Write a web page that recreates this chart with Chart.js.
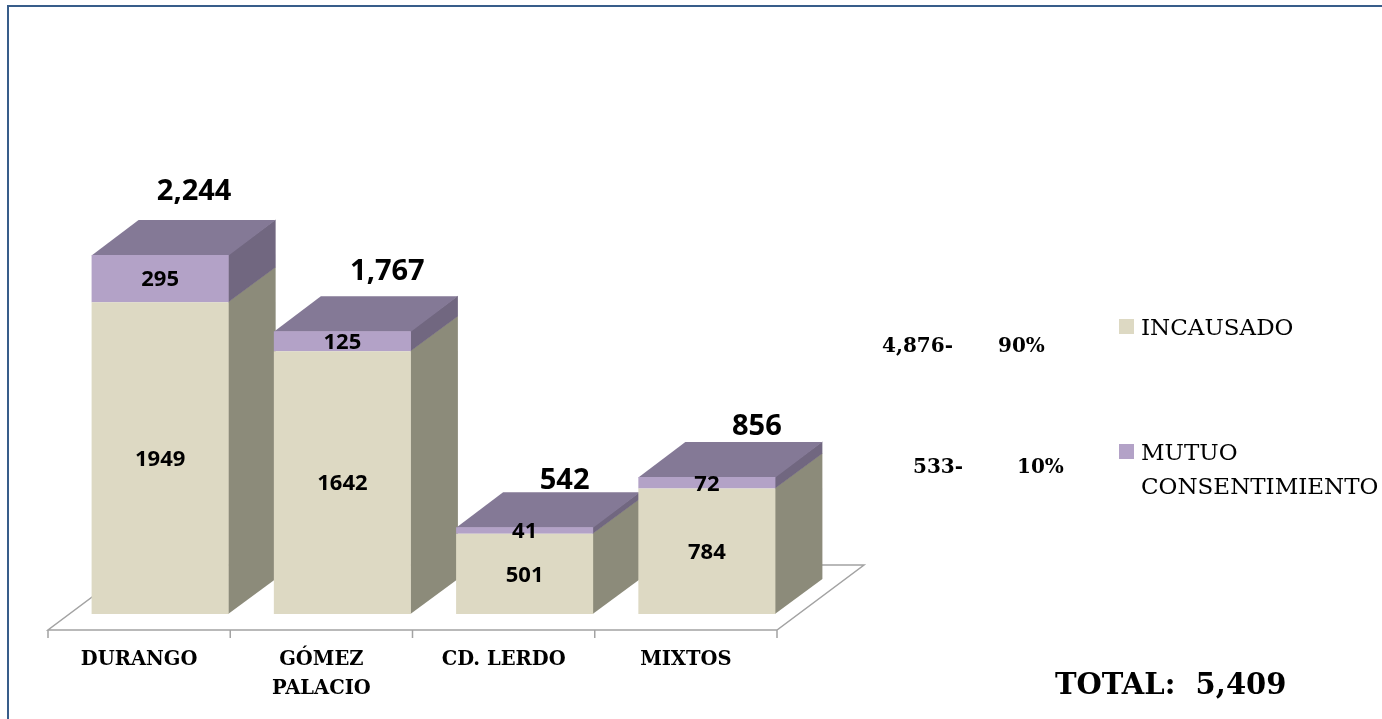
<!DOCTYPE html>
<html><head><meta charset="utf-8">
<script src="https://cdn.jsdelivr.net/npm/chart.js@4.4.1/dist/chart.umd.min.js"></script>
<style>
html,body{margin:0;padding:0;background:#fff;}
#wrap{position:relative;width:1382px;height:719px;overflow:hidden;background:#fff;}
#frame{position:absolute;left:7px;top:5px;width:1420px;height:760px;border:2px solid #385D8A;box-sizing:border-box;}
#c{position:absolute;left:0;top:0;}
.t{position:absolute;white-space:pre;font-family:'DejaVu Serif';line-height:1;color:#000;}
.b{font-weight:bold;}
.sw{position:absolute;width:15px;height:15px;}
</style>
</head><body>
<div id="wrap">
  <div id="frame"></div>
  <canvas id="c" width="1382" height="719"></canvas>
  <div id="overlay"></div>
</div>
<script>
// ---- data ----
const categories = ['DURANGO', ['GÓMEZ', 'PALACIO'], 'CD. LERDO', 'MIXTOS'];
const incausado = [1949, 1642, 501, 784];
const mutuo = [295, 125, 41, 72];
const seriesNames = ['INCAUSADO', ['MUTUO', 'CONSENTIMIENTO']];
const yMax = 3000;

// ---- styles ----
const frontColors = ['#DDD9C3', '#B3A2C7'];
const sideColors = ['#8C8B7A', '#716780'];
const topColor = '#847996';
const DX = 47, DY = -35;            // bar depth
const FDX = 87, FDY = -65;          // floor depth
const FOX = 21, FOY = 16;           // bar front offset from floor front

function fmt(n){ return String(n).replace(/\B(?=(\d{3})+(?!\d))/g, ','); }

const threeD = {
  id: 'threeD',
  beforeDatasetsDraw(chart) {
    const {ctx, chartArea: a} = chart;
    const fl = a.left - FOX, fr = a.right - FOX, fy = a.bottom + FOY;
    ctx.save();
    ctx.strokeStyle = '#A3A3A3';
    ctx.lineWidth = 1.5;
    ctx.beginPath();
    ctx.moveTo(fl, fy); ctx.lineTo(fr, fy); ctx.lineTo(fr + FDX, fy + FDY);
    ctx.lineTo(fl + FDX, fy + FDY); ctx.closePath();
    const n = chart.data.labels.length, w = (fr - fl) / n;
    for (let i = 0; i <= n; i++) { ctx.moveTo(fl + i * w, fy); ctx.lineTo(fl + i * w, fy + 8); }
    ctx.stroke();
    const last = chart.data.datasets.length - 1;
    chart.data.datasets.forEach((ds, di) => {
      const meta = chart.getDatasetMeta(di);
      meta.data.forEach((bar) => {
        const p = bar.getProps(['x', 'y', 'base', 'width'], true);
        const l = p.x - p.width / 2, r = p.x + p.width / 2;
        ctx.fillStyle = sideColors[di];
        ctx.beginPath();
        ctx.moveTo(r - 0.5, p.y - 0.5); ctx.lineTo(r + DX, p.y + DY - 0.5);
        ctx.lineTo(r + DX, p.base + DY); ctx.lineTo(r - 0.5, p.base);
        ctx.closePath(); ctx.fill();
        if (di === last) {
          ctx.fillStyle = topColor;
          ctx.beginPath();
          ctx.moveTo(l, p.y + 0.5); ctx.lineTo(l + DX, p.y + DY);
          ctx.lineTo(r + DX, p.y + DY); ctx.lineTo(r, p.y + 0.5);
          ctx.closePath(); ctx.fill();
        }
      });
    });
    ctx.restore();
  },
  afterDatasetsDraw(chart, args, opts) {
    const ctx = chart.ctx;
    ctx.save();
    ctx.fillStyle = '#000';
    ctx.textAlign = 'center';
    ctx.textBaseline = 'alphabetic';
    ctx.font = 'bold ' + opts.innerSize + 'px "Open Sans"';
    chart.data.datasets.forEach((ds, di) => {
      chart.getDatasetMeta(di).data.forEach((bar, j) => {
        const p = bar.getProps(['x', 'y', 'base'], true);
        const cy = (p.y + p.base) / 2;
        ctx.fillText(String(ds.data[j]), p.x, cy + 0.357 * opts.innerSize);
      });
    });
    const lastMeta = chart.getDatasetMeta(chart.data.datasets.length - 1);
    ctx.font = 'bold ' + opts.totalSize + 'px "Open Sans"';
    lastMeta.data.forEach((bar, j) => {
      const total = chart.data.datasets.reduce((s, ds) => s + ds.data[j], 0);
      const off = opts.totalOffsets[j];
      const p = bar.getProps(['x', 'y'], true);
      ctx.fillText(fmt(total), p.x + DX + off[0], p.y + DY + off[1] + 0.357 * opts.totalSize);
    });
    ctx.restore();
  }
};

const chart = new Chart(document.getElementById('c'), {
  type: 'bar',
  data: {
    labels: categories,
    datasets: [
      { label: 'INCAUSADO', data: incausado, backgroundColor: frontColors[0], borderWidth: 0 },
      { label: 'MUTUO CONSENTIMIENTO', data: mutuo, backgroundColor: frontColors[1], borderWidth: 0 }
    ]
  },
  options: {
    responsive: false,
    animation: false,
    devicePixelRatio: 1,
    layout: { padding: { left: 69, right: 584, top: 134, bottom: 0 } },
    datasets: { bar: { categoryPercentage: 0.752, barPercentage: 1 } },
    scales: {
      x: {
        stacked: true,
        grid: { display: false, drawTicks: false },
        border: { display: false },
        ticks: {
          color: '#000',
          padding: 31,
          labelOffset: -21,
          maxRotation: 0,
          autoSkip: false,
          font: { family: 'DejaVu Serif', weight: 'bold', size: 19.5, lineHeight: 1.5 }
        },
        afterFit(scale) { scale.height = 105; }
      },
      y: { stacked: true, display: false, min: 0, max: yMax }
    },
    plugins: {
      legend: { display: false },
      tooltip: { enabled: false },
      threeD: { innerSize: 22, totalSize: 29, totalOffsets: [[-13, -30], [-2, -27], [-7, -14], [3, -17]] }
    }
  },
  plugins: [threeD]
});

// ---- overlay texts: series totals, shares, legend, grand total ----
const sums = [incausado, mutuo].map(a => a.reduce((s, v) => s + v, 0));
const grand = sums[0] + sums[1];
const ov = document.getElementById('overlay');
function addText(txt, left, top, size, bold) {
  const d = document.createElement('div');
  d.className = 't' + (bold ? ' b' : '');
  d.style.left = left + 'px'; d.style.top = top + 'px'; d.style.fontSize = size + 'px';
  d.textContent = txt; ov.appendChild(d);
}
const rowTops = [335, 456];
const numLefts = [882, 913];
const pctLefts = [998, 1017];
sums.forEach((s, i) => {
  addText(fmt(s) + '-', numLefts[i], rowTops[i], 20, true);
  addText(Math.round(s / grand * 100) + '%', pctLefts[i], rowTops[i], 20, true);
});
const legTops = [315.5, 440.5];
const swTops = [319, 444];
seriesNames.forEach((nm, i) => {
  const sw = document.createElement('div');
  sw.className = 'sw'; sw.style.left = '1119px'; sw.style.top = swTops[i] + 'px';
  sw.style.background = frontColors[i]; ov.appendChild(sw);
  const lines = Array.isArray(nm) ? nm : [nm];
  lines.forEach((ln, k) => addText(ln, 1141, legTops[i] + k * 34, 23, false));
});
addText('TOTAL:  ' + fmt(grand), 1055, 670, 29, true);
</script>
</body></html>
